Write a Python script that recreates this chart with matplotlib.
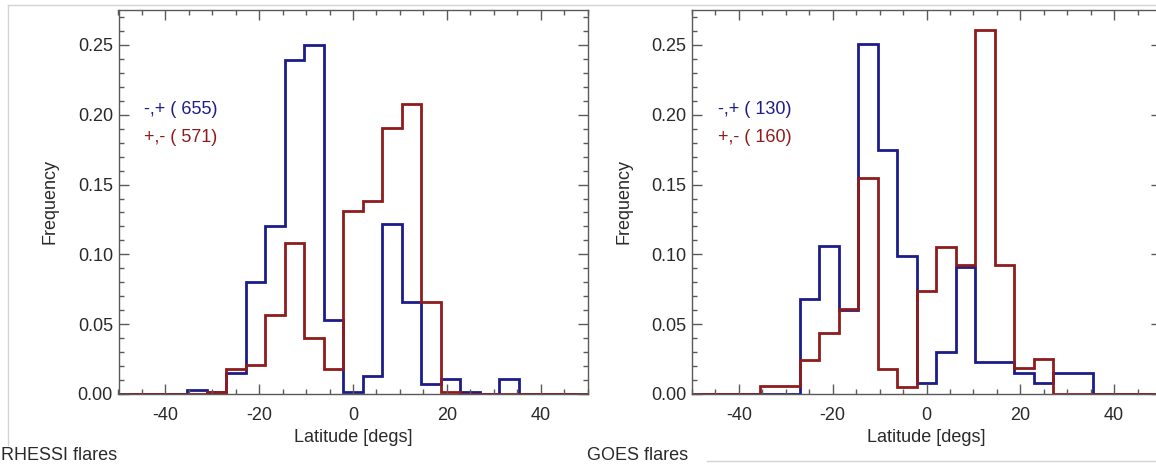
import numpy as np
import matplotlib
matplotlib.use("Agg")
import matplotlib.pyplot as plt
from matplotlib.lines import Line2D
from matplotlib.ticker import MultipleLocator, FormatStrFormatter

plt.rcParams['font.family'] = ['Liberation Sans', 'DejaVu Sans']
plt.rcParams['axes.unicode_minus'] = False

# latitude bin edges (degrees), shared by both panels
bin_edges = np.linspace(-35.4, 35.4, 18)

# RHESSI flares
rhessi_neg_pos = [0.003, 0.0015, 0.015, 0.080, 0.120, 0.239, 0.250, 0.053, 0.0017,
                  0.013, 0.122, 0.066, 0.007, 0.0105, 0.0017, 0.0, 0.0105]
rhessi_pos_neg = [0.0, 0.0015, 0.0176, 0.0207, 0.0564, 0.108, 0.040, 0.0176, 0.131,
                  0.138, 0.1905, 0.208, 0.066, 0.0017, 0.0, 0.0, 0.0]

# GOES flares
goes_neg_pos = [0.0, 0.0, 0.068, 0.106, 0.060, 0.251, 0.175, 0.0986, 0.0076,
                0.030, 0.091, 0.023, 0.023, 0.0148, 0.0076, 0.0148, 0.0148]
goes_pos_neg = [0.006, 0.006, 0.0243, 0.0438, 0.061, 0.155, 0.0176, 0.0052, 0.0738,
                0.105, 0.0926, 0.2605, 0.0926, 0.0183, 0.0248, 0.0, 0.0]

panels = [
    ("RHESSI flares", rhessi_neg_pos, rhessi_pos_neg, "-,+ ( 655)", "+,- ( 571)"),
    ("GOES flares", goes_neg_pos, goes_pos_neg, "-,+ ( 130)", "+,- ( 160)"),
]

blue = "#1c1c8a"
red = "#8e1c1c"
axcol = "#5a5a5a"
txtcol = "#2a2a2a"

W, H = 1156, 466
fig = plt.figure(figsize=(W / 100, H / 100), dpi=100)

# light frame lines from the original screenshot
fig.add_artist(Line2D([8 / W, 1], [1 - 5 / H, 1 - 5 / H], transform=fig.transFigure,
                      color="#d4d4d4", lw=1))
fig.add_artist(Line2D([8 / W, 8 / W], [1 - 5 / H, 1 - 445 / H], transform=fig.transFigure,
                      color="#d4d4d4", lw=1))
fig.add_artist(Line2D([707 / W, 1], [1 - 461 / H, 1 - 461 / H], transform=fig.transFigure,
                      color="#d4d4d4", lw=1))

xlim = (-50, 50)
lefts = [118.5, 692]
label_x = [1, 587]

for i, (title, neg_pos, pos_neg, lab1, lab2) in enumerate(panels):
    ax = fig.add_axes([lefts[i] / W, 1 - 394 / H, 469 / W, 384 / H])

    edges = np.concatenate([[xlim[0]], bin_edges, [xlim[1]]])
    ax.stairs(np.concatenate([[0], neg_pos, [0]]), edges, baseline=None,
              color=blue, lw=2.0)
    ax.stairs(np.concatenate([[0], pos_neg, [0]]), edges, baseline=None,
              color=red, lw=2.0)

    ax.set_xlim(*xlim)
    ax.set_ylim(0, 0.275)
    ax.xaxis.set_major_locator(MultipleLocator(20))
    ax.xaxis.set_minor_locator(MultipleLocator(5))
    ax.yaxis.set_major_locator(MultipleLocator(0.05))
    ax.yaxis.set_minor_locator(MultipleLocator(0.01))
    ax.yaxis.set_major_formatter(FormatStrFormatter("%.2f"))
    ax.tick_params(which="both", direction="in", top=True, right=True,
                   color=axcol, labelcolor=txtcol, labelsize=13)
    ax.tick_params(which="major", length=7, width=1)
    ax.tick_params(which="minor", length=3.5, width=1)
    ax.tick_params(axis="x", pad=9)
    ax.tick_params(axis="y", pad=4)
    for s in ax.spines.values():
        s.set_color(axcol)
        s.set_linewidth(1)

    ax.set_xlabel("Latitude [degs]", fontsize=13, color=txtcol)
    ax.set_ylabel("Frequency", fontsize=13, color=txtcol)
    ax.xaxis.set_label_coords(0.5, -0.09)
    ax.yaxis.set_label_coords(-0.127, 0.5)

    ax.text(-44.5, 0.204, lab1, color=blue, fontsize=13, va="center", ha="left")
    ax.text(-44.5, 0.184, lab2, color=red, fontsize=13, va="center", ha="left")

    fig.text(label_x[i] / W, 1 - 455 / H, title, fontsize=13, color=txtcol,
             ha="left", va="center")

fig.savefig("out.png", dpi=100)
